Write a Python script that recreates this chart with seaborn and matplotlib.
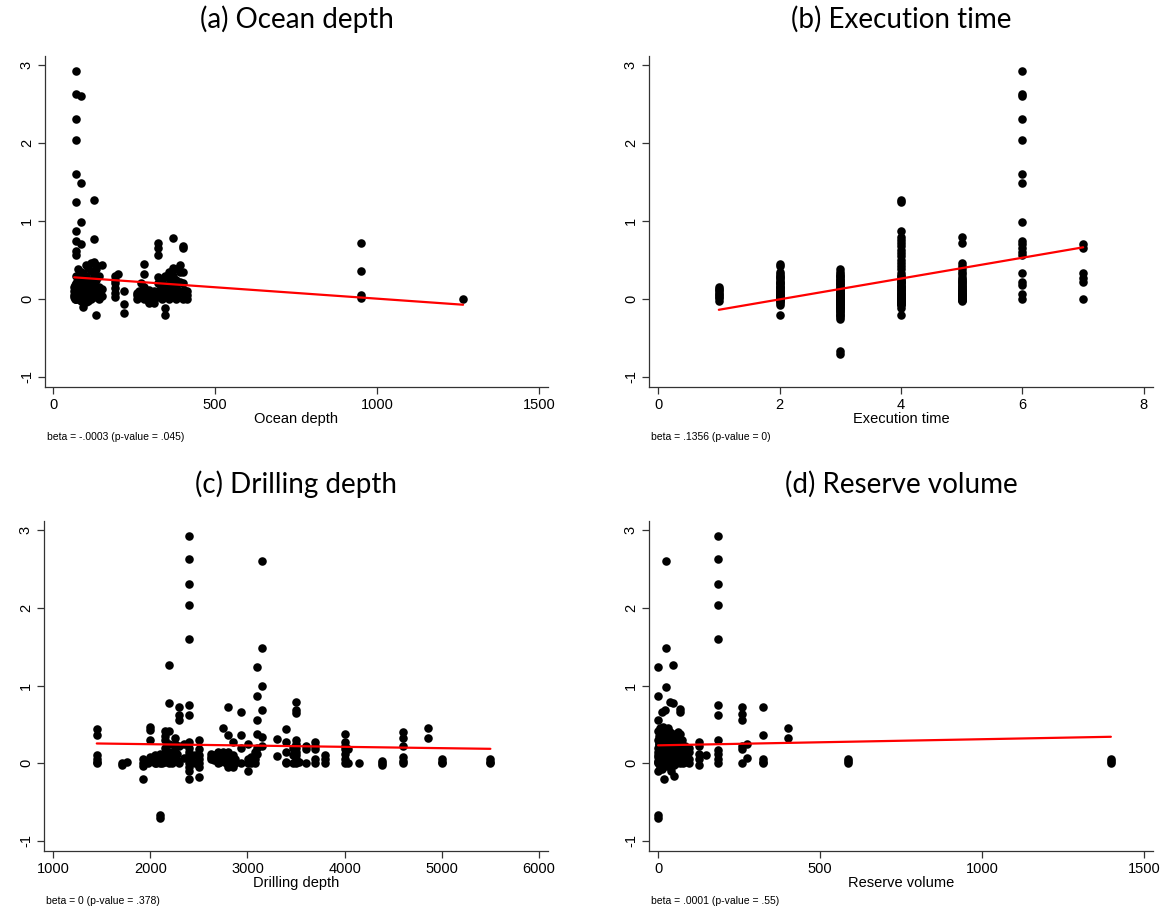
import numpy as np
import matplotlib
matplotlib.use("Agg")
import matplotlib.pyplot as plt
import seaborn as sns

# ---------------- data (grouped by x level) ----------------
ocean_levels = [70, 85, 125, 65, 78, 93, 100, 108, 116, 133, 142, 150,
                190, 200, 220, 260, 270, 282, 295, 310, 325, 335, 345, 358,
                370, 380, 392, 400, 412, 950, 1265,
                68, 74, 82, 89, 97, 104, 112, 120,
                265, 300, 330, 352, 365, 386, 405,
                72, 80, 87, 95, 102, 110]
ocean_groups = [
    [2.93, 2.63, 2.31, 2.04, 1.6, 1.24, 0.87, 0.75, 0.62, 0.56, 0.3, 0.2, 0.12, 0.08, 0.04, 0.0],
    [2.6, 1.49, 0.99, 0.7, 0.35, 0.28, 0.18, 0.12, 0.07, 0.03, -0.02],
    [1.27, 0.77, 0.47, 0.3, 0.18, 0.1, 0.03],
    [0.15, 0.1, 0.05, 0.02],
    [0.38, 0.25, 0.17, 0.1, 0.06, 0.02],
    [0.32, 0.22, 0.15, 0.09, 0.04, -0.1],
    [0.44, 0.3, 0.2, 0.14, 0.08, 0.01, -0.04],
    [0.4, 0.25, 0.16, 0.1, 0.05, -0.02],
    [0.46, 0.36, 0.22, 0.12, 0.06, 0.0],
    [0.44, 0.38, 0.25, 0.14, 0.05, -0.21],
    [0.3, 0.15, 0.07, 0.0],
    [0.44, 0.13, 0.04],
    [0.3, 0.25, 0.2, 0.14, 0.08, 0.03],
    [0.32],
    [0.1, -0.06, -0.18],
    [0.08, 0.05, 0.0],
    [0.2, 0.1, 0.02],
    [0.45, 0.32, 0.15, 0.06, 0.0],
    [0.12, 0.04, -0.04, -0.05],
    [0.1, 0.02, -0.05],
    [0.72, 0.65, 0.57, 0.28, 0.2, 0.1, 0.03],
    [0.25, 0.15, 0.07, 0.0],
    [0.3, 0.18, 0.1, 0.04, -0.12, -0.2],
    [0.35, 0.27, 0.18, 0.12, 0.05, 0.0],
    [0.78, 0.4, 0.3, 0.2, 0.1, 0.03],
    [0.38, 0.25, 0.15, 0.06, 0.0],
    [0.44, 0.35, 0.22, 0.1, 0.02],
    [0.68, 0.65, 0.35, 0.2, 0.08, 0.0],
    [0.1, 0.05, 0.0],
    [0.72, 0.36, 0.05, 0.01],
    [0.0],
    [0.18, 0.1, 0.06, 0.03, 0.0],
    [0.22, 0.14, 0.08, 0.04, 0.01],
    [0.2, 0.12, 0.06, 0.02],
    [0.16, 0.1, 0.05, 0.0],
    [0.18, 0.11, 0.05, 0.02],
    [0.13, 0.07, 0.03],
    [0.15, 0.08, 0.02],
    [0.1, 0.04],
    [0.1, 0.03],
    [0.08, 0.0],
    [0.12, 0.05],
    [0.08, 0.02],
    [0.14, 0.06],
    [0.1, 0.03],
    [0.12, 0.04],
    [0.04, 0.0],
    [0.03, 0.0],
    [0.05, 0.01],
    [0.02, -0.02],
    [0.04, 0.0],
    [0.03, 0.01],
]

exec_levels = [1, 2, 3, 4, 5, 6, 7]
exec_groups = [
    [0.15, 0.13, 0.11, 0.09, 0.07, 0.05, 0.03, 0.01, -0.02],
    [0.45, 0.42, 0.35, 0.32, 0.3, 0.27, 0.25, 0.22, 0.2, 0.18, 0.16, 0.14, 0.12,
     0.1, 0.08, 0.06, 0.04, 0.02, 0.0, -0.02, -0.05, -0.08, -0.21,
     0.28, 0.2, 0.15, 0.1, 0.07, 0.05, 0.03, 0.01, 0.0, -0.03],
    [0.38, 0.35, 0.32, 0.3, 0.27, 0.25, 0.22, 0.2, 0.18, 0.15, 0.13, 0.1, 0.08,
     0.06, 0.04, 0.02, 0.0, -0.02, -0.04, -0.06, -0.08, -0.1, -0.12, -0.15,
     -0.18, -0.2, -0.23, -0.26, -0.67, -0.7,
     0.3, 0.24, 0.19, 0.14, 0.11, 0.09, 0.07, 0.05, 0.03, 0.01, 0.0, -0.01,
     -0.03, -0.05, -0.07, -0.09, -0.11, -0.13, -0.16, -0.2],
    [1.27, 1.24, 0.87, 0.8, 0.76, 0.72, 0.68, 0.63, 0.59, 0.55, 0.5, 0.46, 0.42,
     0.38, 0.33, 0.3, 0.25, 0.22, 0.18, 0.15, 0.12, 0.08, 0.05, 0.02, 0.0,
     -0.03, -0.06, -0.11, -0.2,
     0.3, 0.26, 0.22, 0.2, 0.17, 0.15, 0.13, 0.11, 0.1, 0.08, 0.07, 0.06, 0.05,
     0.04, 0.03, 0.02, 0.01, 0.0, -0.01, -0.02, -0.03, -0.04, -0.05, -0.06, -0.08],
    [0.79, 0.72, 0.46, 0.42, 0.38, 0.35, 0.32, 0.28, 0.25, 0.22, 0.18, 0.15,
     0.12, 0.09, 0.06, 0.03, 0.0,
     0.26, 0.22, 0.19, 0.16, 0.13, 0.11, 0.09, 0.07, 0.06, 0.05, 0.04, 0.03, 0.02,
     0.01, 0.01, 0.0, 0.0, -0.01, -0.01, -0.02],
    [2.93, 2.63, 2.6, 2.31, 2.04, 1.6, 1.49, 0.99, 0.74, 0.7, 0.66, 0.6, 0.57,
     0.34, 0.22, 0.18, 0.07, 0.0],
    [0.7, 0.66, 0.34, 0.27, 0.22, 0.0],
]

drill_levels = [1450, 1710, 1760, 1930, 2000, 2050, 2100, 2150, 2195, 2250, 2300,
                2350, 2400, 2500, 2630, 2700, 2750, 2800, 2850, 2935, 3005, 3080,
                3100, 3150, 3300, 3400, 3470, 3500, 3600, 3700, 3800, 4000, 4040,
                4150, 4385, 4600, 4855, 5000, 5500,
                1980, 2060, 2120, 2170, 2220, 2280, 2420, 2460, 2660, 2720, 2780,
                2870, 3040, 3530]
drill_groups = [
    [0.44, 0.36, 0.1, 0.06, 0.02, 0.0],
    [-0.02, 0.0],
    [0.02],
    [0.05, 0.0, -0.04, -0.2],
    [0.47, 0.43, 0.3, 0.08, 0.03],
    [0.1, 0.05, 0.0],
    [0.12, 0.05, 0.0, -0.67, -0.7],
    [0.42, 0.35, 0.3, 0.2, 0.12, 0.02],
    [1.27, 0.77, 0.42, 0.25, 0.15, 0.08, 0.0],
    [0.32, 0.25, 0.2, 0.1],
    [0.73, 0.62, 0.56, 0.22, 0.0],
    [0.25, 0.07],
    [2.93, 2.63, 2.31, 2.04, 1.6, 0.75, 0.62, 0.27, 0.2, 0.15, 0.1, 0.05, 0.0,
     -0.05, -0.1, -0.2],
    [0.3, 0.18, 0.1, 0.05, 0.0, -0.05, -0.18],
    [0.12, 0.08, 0.05],
    [0.15, 0.1, 0.03, 0.0],
    [0.45, 0.15, 0.1, 0.05],
    [0.72, 0.36, 0.15, 0.08, 0.02, -0.05],
    [0.28, 0.1, 0.03, -0.05],
    [0.66, 0.37, 0.2, 0.0],
    [0.25, 0.05, 0.0, -0.1],
    [0.15, 0.05, 0.0],
    [1.24, 0.87, 0.56, 0.38, 0.2, 0.12],
    [2.6, 1.49, 0.99, 0.68, 0.34, 0.22],
    [0.31, 0.09],
    [0.44, 0.27, 0.15, 0.02, 0.0],
    [0.2, 0.1, 0.0],
    [0.79, 0.68, 0.65, 0.3, 0.25, 0.2, 0.15, 0.1, 0.05, 0.0],
    [0.22, 0.18, 0.0],
    [0.27, 0.22, 0.18, 0.05, 0.0],
    [0.1, 0.05, 0.0],
    [0.38, 0.28, 0.22, 0.18, 0.12, 0.05, 0.0],
    [0.18, 0.0],
    [0.0],
    [0.03, 0.0, -0.02],
    [0.4, 0.33, 0.22, 0.08, 0.03, 0.0],
    [0.45, 0.32],
    [0.05, 0.02, 0.0],
    [0.05, 0.02, 0.0],
    [0.02, 0.0],
    [0.08, 0.03, 0.0],
    [0.1, 0.04, 0.0],
    [0.15, 0.08, 0.03],
    [0.1, 0.05, 0.0],
    [0.12, 0.04],
    [0.08, 0.02],
    [0.1, 0.0],
    [0.1, 0.04],
    [0.12, 0.06, 0.02],
    [0.1, 0.0],
    [0.06, 0.0],
    [0.08, 0.0],
    [0.02],
]

reserve_levels = [0, 3, 6, 9, 12, 15, 18, 22, 24, 28, 32, 36, 40, 45, 50, 55, 60,
                  68, 75, 82, 95, 127, 148, 186, 258, 273, 323, 400, 585, 1397,
                  1, 4, 7, 10, 13, 16, 19, 21, 26, 30, 34, 38, 42, 48, 52, 58, 64,
                  72, 78, 86, 90, 2, 27, 11, 25, 35, 44, 54]
reserve_groups = [
    [1.24, 0.87, 0.56, 0.42, 0.3, 0.2, 0.1, 0.03, -0.1, -0.67, -0.7],
    [0.35, 0.25, 0.15, 0.08, 0.0],
    [0.45, 0.32, 0.22, 0.12, 0.05, -0.05],
    [0.4, 0.28, 0.18, 0.1, 0.02],
    [0.66, 0.35, 0.25, 0.15, 0.06, 0.0, -0.08],
    [0.47, 0.3, 0.2, 0.1, 0.03],
    [0.42, 0.26, 0.14, 0.05, -0.2],
    [0.68, 0.38, 0.22, 0.12, 0.0],
    [2.6, 1.49, 0.98, 0.44, 0.3, 0.18, 0.08, 0.02],
    [0.36, 0.24, 0.1, 0.04, -0.03],
    [0.45, 0.3, 0.16, 0.06, 0.0],
    [0.79, 0.4, 0.22, 0.12, 0.02],
    [0.33, 0.2, 0.08, -0.05, -0.1],
    [1.27, 0.77, 0.38, 0.25, 0.13, 0.04],
    [0.3, 0.18, 0.06, -0.02, -0.17],
    [0.35, 0.22, 0.1, 0.0],
    [0.4, 0.25, 0.12, 0.04],
    [0.7, 0.66, 0.38, 0.2, 0.08, 0.0],
    [0.3, 0.15, 0.05],
    [0.22, 0.1, 0.02],
    [0.2, 0.15, 0.05, 0.0],
    [0.27, 0.22, 0.12, 0.05, -0.02],
    [0.1],
    [2.93, 2.63, 2.31, 2.04, 1.6, 0.75, 0.62, 0.3, 0.17, 0.12, 0.05, 0.0],
    [0.73, 0.64, 0.56, 0.22, 0.18, 0.0],
    [0.25, 0.07],
    [0.72, 0.36, 0.05, 0.02, 0.0],
    [0.45, 0.32],
    [0.06, 0.03, 0.0],
    [0.05, 0.03, 0.0],
    [0.15, 0.08, 0.02, 0.0],
    [0.12, 0.05, 0.0],
    [0.18, 0.1, 0.03],
    [0.14, 0.06, 0.0],
    [0.2, 0.1, 0.04],
    [0.16, 0.07, 0.01],
    [0.12, 0.02],
    [0.18, 0.08, 0.0],
    [0.14, 0.05],
    [0.2, 0.1, 0.0],
    [0.12, 0.04],
    [0.16, 0.07, 0.0],
    [0.14, 0.02],
    [0.2, 0.09, 0.0],
    [0.12, 0.04],
    [0.16, 0.06],
    [0.1, 0.02],
    [0.14, 0.05],
    [0.1, 0.0],
    [0.12, 0.04],
    [0.08],
    [0.25, 0.18],
    [0.28, 0.22, 0.0],
    [0.03, 0.0],
    [0.04, 0.01],
    [0.02, 0.0],
    [0.03, 0.01],
    [0.04, 0.0],
]

titles = ["(a) Ocean depth", "(b) Execution time", "(c) Drilling depth", "(d) Reserve volume"]
xlabels = ["Ocean depth", "Execution time", "Drilling depth", "Reserve volume"]
notes = ["beta = -.0003 (p-value = .045)", "beta = .1356 (p-value = 0)",
         "beta = 0 (p-value = .378)", "beta = .0001 (p-value = .55)"]
xticks_list = [[0, 500, 1000, 1500], [0, 2, 4, 6, 8],
               [1000, 2000, 3000, 4000, 5000, 6000], [0, 500, 1000, 1500]]
y_ticks = [-1, 0, 1, 2, 3]


def flatten(levels, groups):
    x = np.repeat(np.array(levels, dtype=float), [len(g) for g in groups])
    y = np.concatenate([np.array(g, dtype=float) for g in groups])
    return x, y


datasets = [flatten(ocean_levels, ocean_groups), flatten(exec_levels, exec_groups),
            flatten(drill_levels, drill_groups), flatten(reserve_levels, reserve_groups)]

# ---------------- style ----------------
sns.set_style("ticks")
plt.rcParams["font.family"] = ["Liberation Sans", "DejaVu Sans"]
plt.rcParams["axes.unicode_minus"] = False
plt.rcParams["axes.edgecolor"] = "#333333"
plt.rcParams["xtick.color"] = "#333333"
plt.rcParams["ytick.color"] = "#333333"

W, H = 1169, 911
fig = plt.figure(figsize=(W / 100, H / 100), dpi=100)
fig.patch.set_facecolor("white")

# pixel boxes: left, top, right, bottom
boxes = [(45, 56, 548, 387), (649, 56, 1153, 387),
         (44, 521, 548, 851), (649, 521, 1153, 851)]
xlims = [(-25, 1527), (-0.15, 8.15), (907, 6093), (-28, 1527)]
ylim = (-1.13, 3.12)

for i in range(4):
    l, t, r, b = boxes[i]
    ax = fig.add_axes([l / W, 1 - b / H, (r - l) / W, (b - t) / H])
    x, y = datasets[i]
    sns.regplot(x=x, y=y, ax=ax, ci=None,
                scatter_kws=dict(color="black", s=38, linewidths=0, alpha=1),
                line_kws=dict(color="red", lw=1.6))
    ax.set_xlim(*xlims[i])
    ax.set_ylim(*ylim)
    ax.set_xticks(xticks_list[i])
    ax.set_yticks(y_ticks)
    ax.tick_params(axis="both", length=5, width=0.9, labelsize=10.5, labelcolor="black")
    ax.tick_params(axis="y", pad=3)
    ax.tick_params(axis="x", pad=3)
    for lab in ax.get_yticklabels():
        lab.set_rotation(90)
        lab.set_va("center")
    for side in ("top", "right"):
        ax.spines[side].set_visible(False)
    for side in ("left", "bottom"):
        ax.spines[side].set_linewidth(0.9)
    ax.set_xlabel(xlabels[i], fontsize=10.5, labelpad=0, color="black")
    ax.set_ylabel("")
    cx = (l + r) / 2
    fig.text(cx / W, 1 - (t - 37) / H, titles[i], ha="center", va="center",
             fontsize=20, family=["Lato", "DejaVu Sans"], color="black")
    fig.text((l + 2) / W, 1 - (b + 50) / H, notes[i], ha="left", va="center",
             fontsize=7.5, color="black")

fig.savefig("out.png", dpi=100, facecolor="white")
